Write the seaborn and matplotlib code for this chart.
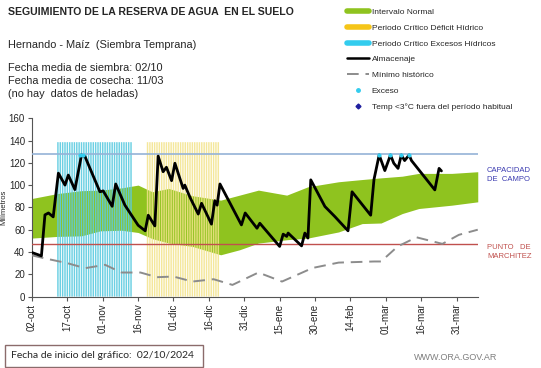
import numpy as np
import pandas as pd
import matplotlib
matplotlib.use("Agg")
import matplotlib.pyplot as plt
import seaborn as sns
from matplotlib.lines import Line2D
from matplotlib.patches import Rectangle

# dias desde el inicio del grafico (02/10/2024)
alm_dias = [0, 4, 5.5, 7, 9, 11.2, 14, 15.4, 18.2, 21, 22.5, 28.8, 30.2, 34, 35.5,
            39.4, 45, 48, 49.3, 52.1, 53.5, 55.6, 57, 59.2, 60.6, 64.1, 64.8, 67,
            70.5, 71.9, 76.1, 77.5, 78.5, 79.7, 88.8, 90.4, 95.4, 96.6, 105, 106.5,
            108, 108.6, 114.3, 115.7, 117, 118.2, 124.2, 128.4, 134, 135.7, 143.6,
            145, 147.2, 149.6, 152, 153.4, 155.2, 156.6, 158, 159.9, 160.9, 170.8,
            172.6, 173.6]
alm_mm = [39.5, 36.5, 73.3, 75, 71.5, 110.7, 100, 109, 96, 127, 125.5, 94, 94.8, 81,
          101, 82, 64, 59, 73, 63.4, 126, 112, 116, 104, 119.6, 97, 100, 89, 74,
          83.7, 65, 86, 82, 101, 64.3, 75, 61.3, 65.8, 45, 56, 54, 57, 45.5, 57,
          52.5, 104.7, 80.8, 71.8, 59, 94, 73, 105, 127, 113, 127, 119.6, 115, 127,
          122, 127, 122, 95.7, 115, 112.7]

band_dias = [0, 11, 21, 29, 38, 45, 51, 58, 68, 80, 88, 96, 108, 117, 130, 140, 148,
             157, 164, 178, 189]
band_sup = [88, 92.5, 95, 95.5, 97.5, 100, 94, 97, 90.5, 86.5, 91, 95.5, 91, 98.5,
            103, 105, 106.5, 108, 110.5, 110.5, 112]
band_inf = [52.5, 54, 54.5, 59, 59.5, 57.5, 52, 48, 45, 37.5, 42, 48, 51, 52.5, 58,
            65.5, 66, 74.5, 79, 82, 85]

min_dias = [0, 5, 15, 22.5, 31, 38, 46, 53, 60, 68, 77, 85, 96, 106, 119, 130, 145,
            148, 155, 163, 174, 181, 189]
min_mm = [37, 34.5, 30, 25.5, 28.5, 21.6, 21.6, 17.4, 18, 13.5, 15.6, 10.5, 21.6,
          13.5, 25.7, 30.5, 31.5, 31.5, 44.9, 53.2, 47.3, 55.4, 60]

exceso_dias = [20.5, 21.5, 147.2, 152, 156.6, 159.9]
exceso_mm = [127, 127, 127, 127, 127, 127]

exc_periodo = (11, 42)   # periodo critico excesos hidricos
def_periodo = (49, 79)   # periodo critico deficit hidrico
barra_alto = 138.5

cap_campo = 127.5
marchitez = 47

tick_dias = [0, 15, 30, 45, 60, 75, 90, 105, 120, 135, 150, 165, 180]
tick_lbl = ["02-oct", "17-oct", "01-nov", "16-nov", "01-dic", "16-dic", "31-dic",
            "15-ene", "30-ene", "14-feb", "01-mar", "16-mar", "31-mar"]

sns.set_style("white")
plt.rcParams["font.family"] = ["Liberation Sans", "DejaVu Sans"]

verde = "#8fc31f"
celeste = "#5ccbe0"
amarillo = "#f3e38a"

fig = plt.figure(figsize=(5.41, 3.68), dpi=100)
ax = fig.add_axes([0.0591, 0.194, 0.824, 0.4848])

ax.fill_between(band_dias, band_inf, band_sup, color=verde, lw=0, zorder=1)

exc_x = np.arange(exc_periodo[0], exc_periodo[1] + 1)
def_x = np.arange(def_periodo[0], def_periodo[1] + 1)
ax.bar(exc_x, barra_alto, width=0.62, color=celeste, alpha=0.9, lw=0, zorder=2,
       snap=False)
ax.bar(def_x, barra_alto, width=0.62, color=amarillo, alpha=0.85, lw=0, zorder=2,
       snap=False)

ax.axhline(cap_campo, color="#95b3d7", lw=1.2, zorder=3)
ax.axhline(marchitez, color="#c0504d", lw=1.0, zorder=3)

df_min = pd.DataFrame({"dia": min_dias, "mm": min_mm})
sns.lineplot(data=df_min, x="dia", y="mm", ax=ax, color="#8c8c8c", lw=1.4,
             dashes=False, zorder=4).lines[-1].set_dashes([6, 3.5])

df_alm = pd.DataFrame({"dia": alm_dias, "mm": alm_mm})
sns.lineplot(data=df_alm, x="dia", y="mm", ax=ax, color="black", lw=2.0,
             sort=False, zorder=5)

ax.scatter(exceso_dias, exceso_mm, s=9, color="#33ccee", zorder=6, lw=0)

ax.set_xlim(0, 189)
ax.set_ylim(0, 160)
ax.set_yticks(range(0, 161, 20))
ax.set_xticks(tick_dias)
ax.set_xticklabels(tick_lbl, rotation=90)
ax.tick_params(axis="both", labelsize=7, length=3, width=0.8, color="#555555",
               direction="out", bottom=True, left=True, pad=2)
ax.set_xlabel("")
ax.set_ylabel("Milímetros", fontsize=5.5, labelpad=1)
for s in ["top", "right"]:
    ax.spines[s].set_visible(False)
for s in ["left", "bottom"]:
    ax.spines[s].set_color("#555555")
    ax.spines[s].set_linewidth(0.8)

# textos de cabecera
fig.text(8 / 541, 1 - 12 / 368, "SEGUIMIENTO DE LA RESERVA DE AGUA  EN EL SUELO",
         fontsize=7.6, fontweight="bold", va="center")
fig.text(8 / 541, 1 - 45 / 368, "Hernando - Maíz  (Siembra Temprana)",
         fontsize=7.9, va="center")
fig.text(8 / 541, 1 - 68 / 368, "Fecha media de siembra: 02/10", fontsize=7.9,
         va="center")
fig.text(8 / 541, 1 - 81 / 368, "Fecha media de cosecha: 11/03", fontsize=7.9,
         va="center")
fig.text(8 / 541, 1 - 94 / 368, "(no hay  datos de heladas)", fontsize=7.9,
         va="center")

# leyenda
handles = [
    Line2D([], [], color=verde, lw=4),
    Line2D([], [], color="#f5c518", lw=4),
    Line2D([], [], color="#33ccee", lw=4),
    Line2D([], [], color="black", lw=1.8),
    Line2D([], [], color="#8c8c8c", lw=1.4, dashes=[6, 3.5]),
    Line2D([], [], color="#33ccee", marker="o", ms=2.5, lw=0),
    Line2D([], [], color="#1f1f9f", marker="D", ms=2.5, lw=0),
]
labels = ["Intervalo Normal", "Periodo Crítico Déficit Hídrico",
          "Periodo Crítico Excesos Hídricos", "Almacenaje", "Mínimo histórico",
          "Exceso", "Temp <3°C fuera del período habitual"]
fig.legend(handles, labels, loc="upper left", bbox_to_anchor=(344 / 541, 1 - 5 / 368),
           frameon=False, fontsize=6, handlelength=2.6, handletextpad=0.3,
           labelspacing=0.95, borderaxespad=0)

fig.text(487 / 541, 1 - 175 / 368, "CAPACIDAD\nDE  CAMPO", fontsize=5.5,
         color="#3a3ab0", va="center", linespacing=1.3)
fig.text(487 / 541, 1 - 252 / 368, "PUNTO   DE\nMARCHITEZ", fontsize=5.5,
         color="#c0504d", va="center", linespacing=1.3)

# recuadro fecha de inicio
fig.add_artist(Rectangle((5 / 541, 1 - 367 / 368), 198 / 541, 22 / 368,
                         transform=fig.transFigure, fill=False,
                         edgecolor="#8b6b6b", lw=1))
fig.text(11 / 541, 1 - 356 / 368, "Fecha de inicio del gráfico:  02/10/2024",
         fontsize=7.5, family=["Lato", "DejaVu Sans"], va="center")
fig.text(497 / 541, 1 - 358 / 368, "WWW.ORA.GOV.AR", fontsize=6.5, color="#7f7f7f",
         ha="right", va="center")

fig.savefig("out.png", dpi=100)
